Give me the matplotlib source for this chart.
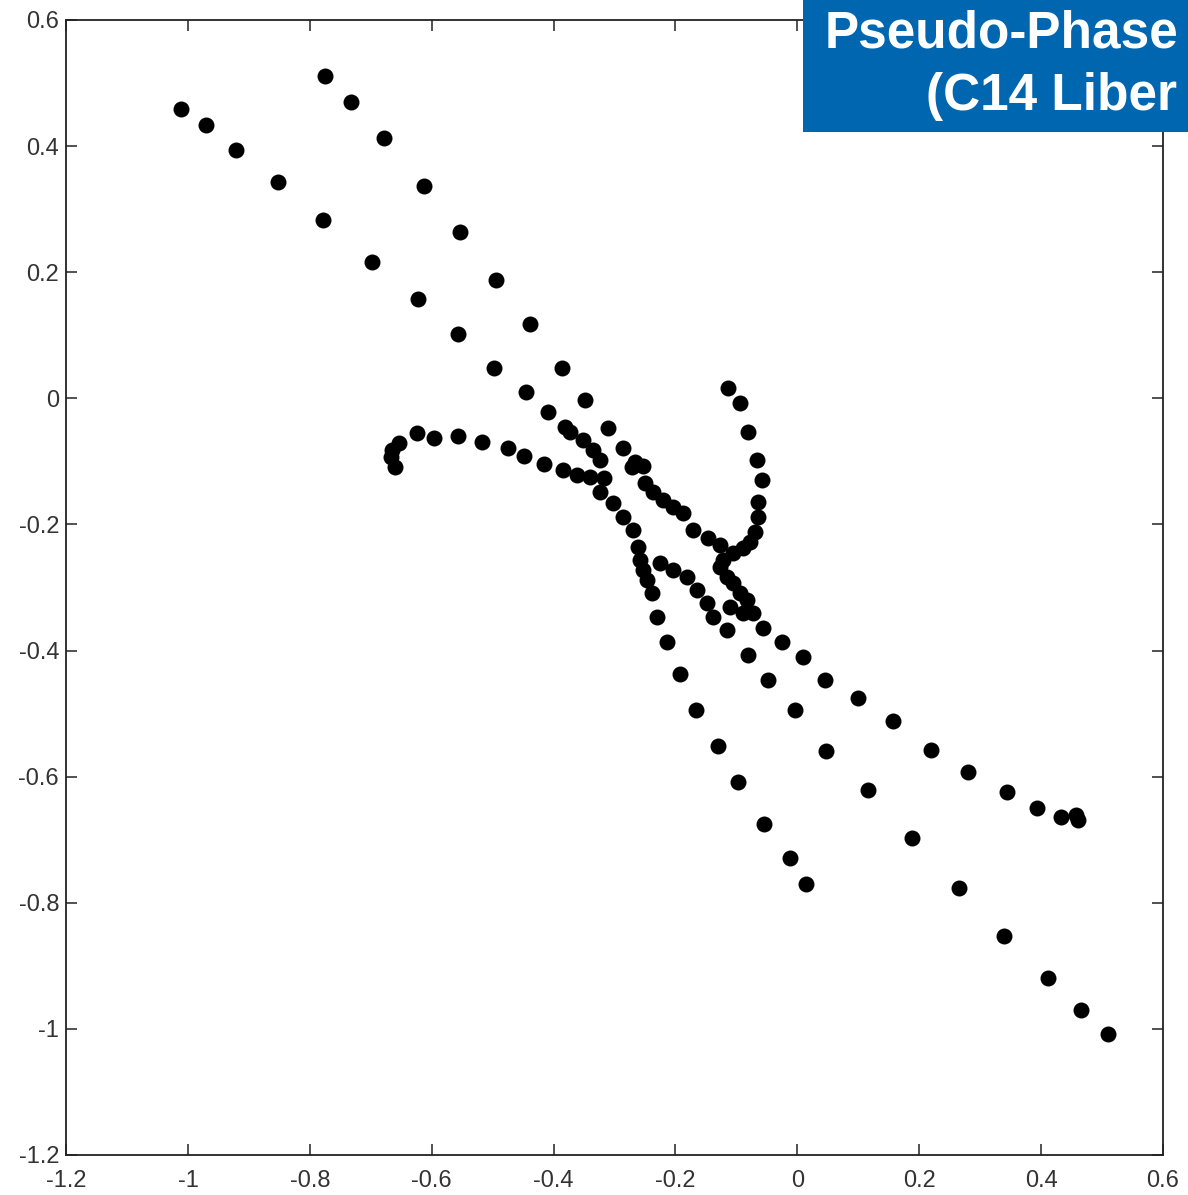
import numpy as np
import matplotlib
matplotlib.use("Agg")
import matplotlib.pyplot as plt

# upper-left branch, runs down into the lower middle tail
branch1_x = [-1.011, -0.970, -0.921, -0.852, -0.778, -0.698, -0.622, -0.557, -0.498, -0.445,
             -0.409, -0.381, -0.373, -0.352, -0.335, -0.324, -0.324, -0.302, -0.286, -0.270,
             -0.261, -0.258, -0.253, -0.247, -0.238, -0.230, -0.214, -0.192, -0.166, -0.130,
             -0.097, -0.055, -0.012, 0.014]
branch1_y = [0.459, 0.433, 0.394, 0.343, 0.283, 0.216, 0.157, 0.102, 0.048, 0.010,
             -0.022, -0.046, -0.053, -0.066, -0.082, -0.098, -0.149, -0.166, -0.188, -0.209,
             -0.236, -0.256, -0.272, -0.288, -0.309, -0.347, -0.386, -0.437, -0.494, -0.551,
             -0.608, -0.675, -0.729, -0.770]

# second upper branch, through the crossing into the middle chain
branch2_x = [-0.775, -0.732, -0.678, -0.613, -0.554, -0.494, -0.439, -0.386, -0.348, -0.311,
             -0.286, -0.266, -0.253, -0.271, -0.250, -0.237, -0.220, -0.204, -0.188, -0.171,
             -0.147, -0.127, -0.106]
branch2_y = [0.511, 0.470, 0.413, 0.337, 0.264, 0.188, 0.118, 0.048, -0.003, -0.047,
             -0.079, -0.101, -0.107, -0.109, -0.134, -0.149, -0.161, -0.172, -0.182, -0.209,
             -0.221, -0.233, -0.245]

# hook on the left
curl_x = [-0.660, -0.667, -0.665, -0.654, -0.624, -0.596, -0.557, -0.518, -0.475, -0.449,
          -0.416, -0.385, -0.361, -0.340, -0.318]
curl_y = [-0.109, -0.093, -0.082, -0.071, -0.055, -0.063, -0.060, -0.069, -0.079, -0.092,
          -0.104, -0.114, -0.122, -0.125, -0.127]

# arc from the top right, down into the right tail
arc_x = [-0.114, -0.094, -0.081, -0.066, -0.058, -0.065, -0.065, -0.070, -0.078, -0.089,
         -0.122, -0.127, -0.116, -0.106, -0.094, -0.083, -0.073, -0.057, -0.025, 0.009,
         0.045, 0.099, 0.157, 0.219, 0.280, 0.344, 0.393, 0.433, 0.457, 0.461]
arc_y = [0.016, -0.007, -0.053, -0.098, -0.129, -0.164, -0.188, -0.212, -0.228, -0.238,
         -0.256, -0.268, -0.283, -0.293, -0.309, -0.320, -0.341, -0.364, -0.387, -0.410,
         -0.447, -0.475, -0.512, -0.558, -0.593, -0.624, -0.650, -0.664, -0.661, -0.669]

# lower branch, through the knot, to the bottom right
lower_x = [-0.225, -0.204, -0.181, -0.165, -0.148, -0.138, -0.111, -0.116, -0.089, -0.081,
           -0.048, -0.004, 0.047, 0.116, 0.188, 0.265, 0.339, 0.411, 0.465, 0.510]
lower_y = [-0.261, -0.272, -0.283, -0.304, -0.325, -0.347, -0.331, -0.367, -0.341, -0.407,
           -0.447, -0.495, -0.559, -0.621, -0.698, -0.777, -0.852, -0.920, -0.970, -1.008]

x_ticks = [-1.2, -1, -0.8, -0.6, -0.4, -0.2, 0, 0.2, 0.4, 0.6]
y_ticks = [-1.2, -1, -0.8, -0.6, -0.4, -0.2, 0, 0.2, 0.4, 0.6]

# the corner box only shows the start of its two lines
title_lines = ['Pseudo-Phase', '(C14 Liber']

fig = plt.figure(figsize=(11.88, 11.95), dpi=100)
ax = fig.add_axes([0.0556, 0.0335, 0.9234, 0.9498])

for xs, ys in [(branch1_x, branch1_y), (branch2_x, branch2_y), (curl_x, curl_y),
               (arc_x, arc_y), (lower_x, lower_y)]:
    ax.plot(xs, ys, 'o', color='black', markersize=11.5, markeredgewidth=0)

ax.set_xlim(-1.2, 0.6)
ax.set_ylim(-1.2, 0.6)
ax.set_xticks(x_ticks)
ax.set_yticks(y_ticks)
ax.set_xticklabels(['%g' % t for t in x_ticks])
ax.set_yticklabels(['%g' % t for t in y_ticks])
ax.tick_params(direction='in', length=8, width=1.2, top=True, right=True,
               labelsize=17, colors='#333333')
ax.tick_params(axis='x', pad=11)
ax.tick_params(axis='y', pad=5)
for lab in ax.get_xticklabels() + ax.get_yticklabels():
    lab.set_family('Liberation Sans')
for sp in ax.spines.values():
    sp.set_linewidth(1.3)
    sp.set_color('#222222')

# blue title box in the corner, cut by the image edge
box = fig.add_axes([803 / 1188, 1 - 132 / 1195, 385 / 1188, 132 / 1195])
box.set_facecolor('#0066b0')
box.set_xticks([])
box.set_yticks([])
for sp in box.spines.values():
    sp.set_visible(False)
fig.text(825 / 1188, 1 - 48 / 1195, title_lines[0], color='white', fontsize=37,
         fontweight='bold', family='Liberation Sans', ha='left', va='baseline')
fig.text(926 / 1188, 1 - 110 / 1195, title_lines[1], color='white', fontsize=37,
         fontweight='bold', family='Liberation Sans', ha='left', va='baseline')

fig.savefig('out.png', dpi=100)
